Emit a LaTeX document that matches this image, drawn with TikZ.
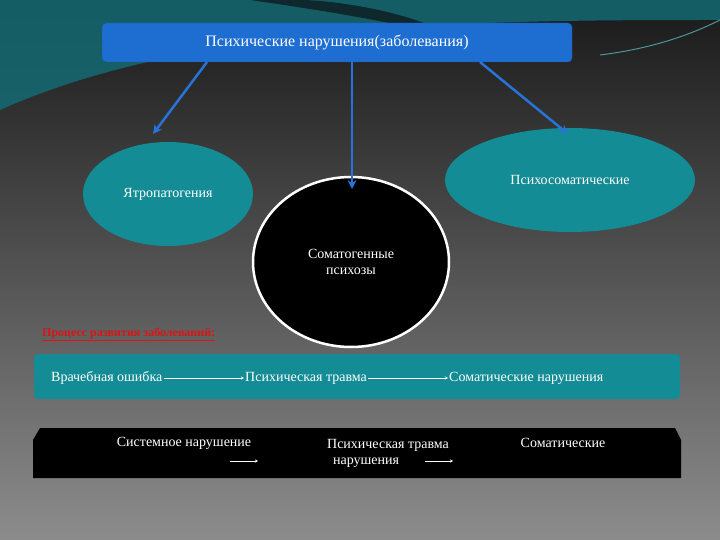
\documentclass[tikz,border=0pt]{standalone}
\usepackage{fontspec}
\setmainfont{Liberation Serif}
\usetikzlibrary{arrows.meta,shapes.geometric}
\definecolor{swA}{RGB}{20,110,120}
\definecolor{swB}{RGB}{15,40,45}
\definecolor{swC}{RGB}{90,200,210}
\definecolor{tealc}{RGB}{20,140,150}
\definecolor{bluec}{RGB}{30,110,210}
\definecolor{bluedk}{RGB}{25,80,160}
\definecolor{arrc}{RGB}{40,115,215}
\definecolor{redc}{RGB}{220,20,20}
\definecolor{bgtop}{RGB}{25,25,25}
\definecolor{bgbot}{RGB}{140,140,140}
\begin{document}
\begin{tikzpicture}[x=1pt,y=-1pt,
  txt/.style={text=white,font=\fontsize{14}{16}\selectfont,inner sep=1pt},
  tealfill/.style={fill=tealc},
  bluearr/.style={draw=arrc,line width=2.5pt,-{Stealth[length=9pt,width=9pt]}},
  wharr/.style={draw=white,line width=0.8pt,-{Stealth[length=3pt,width=3pt]}}]
\useasboundingbox (0,0) rectangle (720,540);
\shade[top color=bgtop,bottom color=bgbot] (0,0) rectangle (720,540);
% teal swoosh
\fill[swA,opacity=0.8] (0,0) -- (720,0) -- (720,20) .. controls (500,20) and (200,20) .. (0,110) -- cycle;
\fill[swB] (250,0) .. controls (320,10) and (380,20) .. (420,30) -- (440,30) .. controls (400,10) and (330,0) .. (300,0) -- cycle;
\draw[swC,line width=1pt,opacity=0.7] (720,20) .. controls (680,40) and (640,50) .. (600,55);
% top box
\node[draw=bluedk,fill=bluec,rounded corners=4pt,minimum width=470,minimum height=39,txt,font=\fontsize{16}{18}\selectfont] (top) at (337,42.5) {Психические нарушения(заболевания)};
% ellipses
\node[ellipse,tealfill,minimum width=170,minimum height=104,txt] (ya) at (168,194) {\raisebox{-6pt}{Ятропатогения}};
\node[ellipse,tealfill,minimum width=250,minimum height=104,txt] (ps) at (570,180) {\raisebox{-6pt}{Психосоматические}};
\node[ellipse,fill=black,draw=white,line width=2.5pt,minimum width=196,minimum height=170,txt,align=center] (so) at (351,262) {Соматогенные\\психозы};
% arrows
\coordinate (a1) at (207,62); \coordinate (a2) at (352,62); \coordinate (a3) at (480,62);
\coordinate (e1) at (153,134); \coordinate (e2) at (352,189); \coordinate (e3) at (568,134);
\draw[bluearr] (a1) -- (e1);
\draw[bluearr] (a2) -- (e2);
\draw[bluearr] (a3) -- (e3);
% process label
\node[anchor=west,text=redc,font=\bfseries\fontsize{12}{14}\selectfont,inner sep=0] (pr) at (42,333) {Процесс развития заболеваний:};
\draw[redc,line width=0.8pt] ([yshift=-2pt]pr.south west) -- ([yshift=-2pt]pr.south east);
% teal bar
\fill[tealfill,rounded corners=4pt] (34,354) rectangle (680,399);
\node[txt,anchor=west] (t1) at (50,378) {Врачебная ошибка};
\node[txt,anchor=west] (t2) at (244,378) {Психическая травма};
\node[txt,anchor=west] (t3) at (448,378) {Соматические нарушения};
\draw[wharr] (t1.east) -- (t2.west);
\draw[wharr] (t2.east) -- (t3.west);
% black bar
\fill[black] (40,428) -- (675,428) -- (681,440) -- (681,478) -- (33,478) -- (33,440) -- cycle;
\node[txt] (b1) at (184,443) {Системное нарушение};
\node[txt,align=left] (b2) at (388,453) {Психическая травма\\\hspace*{6pt}нарушения};
\node[txt] (b3) at (563,443) {Соматические};
\coordinate (c1) at (230,461); \coordinate (c2) at (258,461);
\coordinate (c3) at (425,461); \coordinate (c4) at (453,461);
\draw[wharr] (c1) -- (c2);
\draw[wharr] (c3) -- (c4);
\end{tikzpicture}
\end{document}
